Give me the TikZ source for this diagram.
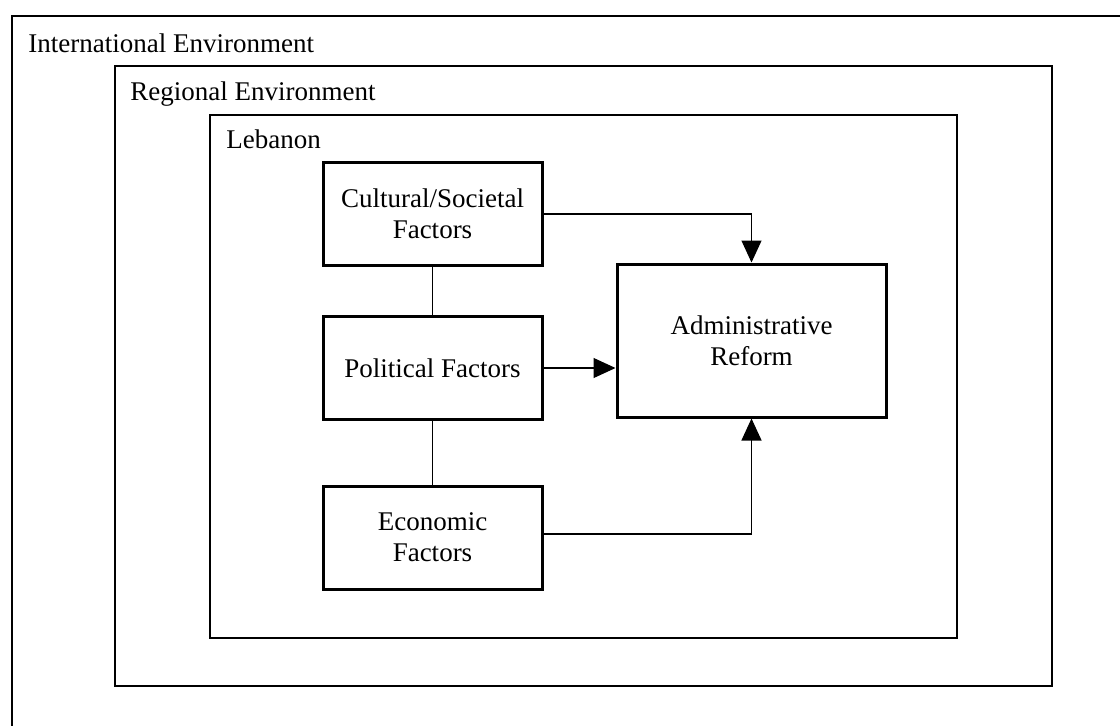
\documentclass[tikz,border=0pt]{standalone}
\usepackage{fontspec}
\setmainfont{Liberation Serif}
\usetikzlibrary{arrows.meta,positioning}
\tikzset{
  envframe/.style={
    draw=black,
    line width=0.8pt
  },
  envlabel/.style={
    anchor=base west,
    inner sep=0pt,
    font=\fontsize{13.5}{16}\selectfont
  },
  factorbox/.style={
    draw=black,
    line width=1.5pt,
    minimum width=109.5pt,
    minimum height=51.5pt,
    align=center,
    inner sep=2pt,
    font=\fontsize{13.5}{15.5}\selectfont
  },
  reformbox/.style={
    factorbox,
    minimum width=134.5pt,
    minimum height=76.5pt
  },
  factorlink/.style={
    draw=black,
    line width=0.6pt
  },
  factorarrow/.style={
    factorlink,
    -{Triangle[length=11pt,width=10pt]}
  }
}

\begin{document}
\begin{tikzpicture}[x=0.5pt,y=-0.5pt]
  \clip (0,0) rectangle (1120,725);
  % nested environments
  \draw[envframe] (12,16) rectangle (1140,745);
  \draw[envframe] (115,66) rectangle (1052,686);
  \draw[envframe] (210,115) rectangle (957,638);
  \node[envlabel] (intl) at (28,52) {International Environment};
  \node[envlabel] (region) at (130,100) {Regional Environment};
  \node[envlabel] (leb) at (226,148) {Lebanon};
  % factors and outcome
  \node[factorbox] (cult) at (432.5,214) {Cultural/Societal\\Factors};
  \node[factorbox] (pol) at (432.5,368) {Political Factors};
  \node[factorbox] (econ) at (432.5,537.5) {Economic\\Factors};
  \node[reformbox] (reform) at (751.5,340.5) {Administrative\\Reform};
  \coordinate (econout) at ([yshift=1.75pt]econ.east);
  \draw[factorlink] (cult) -- (pol);
  \draw[factorlink] (pol) -- (econ);
  \draw[factorarrow] (cult.east) -| (reform.north);
  \draw[factorarrow] (pol.east) -- (pol.east -| reform.west);
  \draw[factorarrow] (econout) -| (reform.south);
\end{tikzpicture}
\end{document}
